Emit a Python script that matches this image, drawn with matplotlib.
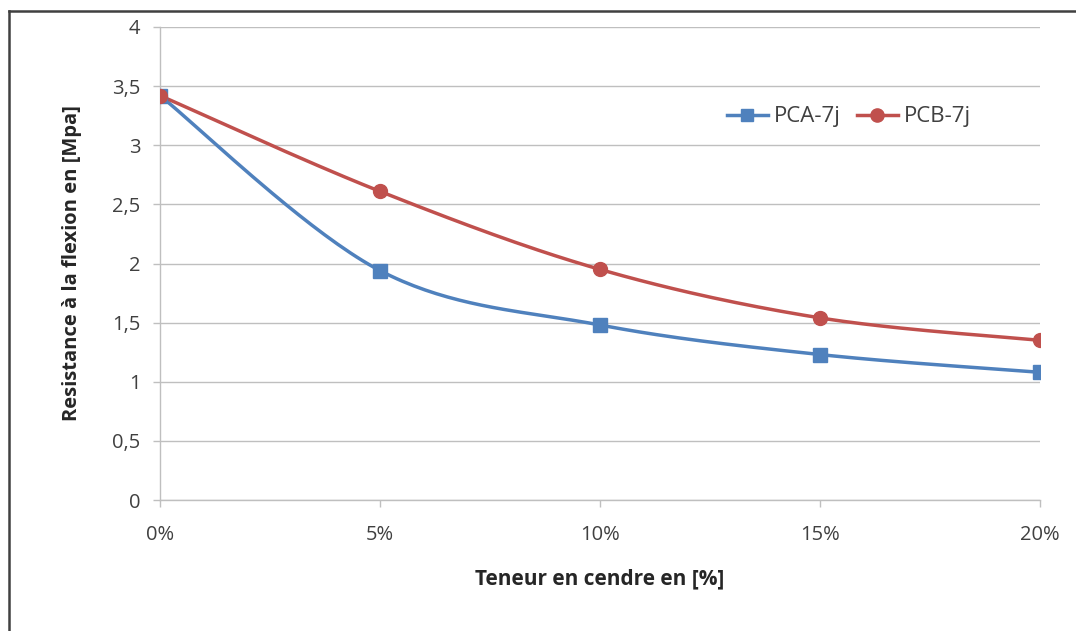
import matplotlib
matplotlib.use("Agg")
import matplotlib.pyplot as plt
from matplotlib.lines import Line2D
import numpy as np

# Données
categories = ["0%", "5%", "10%", "15%", "20%"]
pca_7j = [3.42, 1.94, 1.48, 1.23, 1.08]
pcb_7j = [3.42, 2.61, 1.95, 1.54, 1.35]
y_ticks = [0, 0.5, 1, 1.5, 2, 2.5, 3, 3.5, 4]
y_tick_labels = ["0", "0,5", "1", "1,5", "2", "2,5", "3", "3,5", "4"]

plt.rcParams['font.family'] = ['Open Sans', 'DejaVu Sans']


def smooth_curve(x, y, n=40):
    """Courbe lissée façon Excel (Bézier cubique, tension 1/6)."""
    x = np.asarray(x, float)
    y = np.asarray(y, float)
    pts = np.column_stack([x, y])
    out = []
    for i in range(len(pts) - 1):
        p0 = pts[i - 1] if i > 0 else pts[i]
        p1 = pts[i]
        p2 = pts[i + 1]
        p3 = pts[i + 2] if i + 2 < len(pts) else pts[i + 1]
        c1 = p1 + (p2 - p0) / 6
        c2 = p2 - (p3 - p1) / 6
        t = np.linspace(0, 1, n)[:, None]
        seg = ((1 - t) ** 3) * p1 + 3 * ((1 - t) ** 2) * t * c1 + 3 * (1 - t) * t ** 2 * c2 + t ** 3 * p2
        out.append(seg if i == 0 else seg[1:])
    seg = np.vstack(out)
    return seg[:, 0], seg[:, 1]


fig = plt.figure(figsize=(10.76, 6.31), dpi=100)
ax = fig.add_axes([160 / 1076, 131 / 631, 880 / 1076, 473 / 631])

xpos = np.arange(len(categories))
blue = '#4F81BD'
red = '#C0504D'

for vals, color, marker, ms, label in [(pca_7j, blue, 's', 9.5, 'PCA-7j'),
                                       (pcb_7j, red, 'o', 10, 'PCB-7j')]:
    sx, sy = smooth_curve(xpos, vals)
    ax.plot(sx, sy, '-', color=color, linewidth=2.5, solid_capstyle='round', zorder=3)
    ax.plot(xpos, vals, linestyle='none', marker=marker, color=color,
            markersize=ms, zorder=4)

# Axes
ax.set_xlim(0, len(categories) - 1)
ax.set_ylim(0, 4)
ax.set_xticks(xpos)
ax.set_xticklabels(categories)
ax.set_yticks(y_ticks)
ax.set_yticklabels(y_tick_labels)
ax.grid(axis='y', color='#BFBFBF', linewidth=1)
ax.set_axisbelow(True)
for side in ['top', 'right']:
    ax.spines[side].set_visible(False)
for side in ['left', 'bottom']:
    ax.spines[side].set_color('#BFBFBF')
    ax.spines[side].set_linewidth(1)
ax.tick_params(axis='both', colors='#BFBFBF', labelcolor='#404040',
               labelsize=14.5, length=5, width=1)
ax.tick_params(axis='x', pad=13)
ax.tick_params(axis='y', pad=9)
for lbl in ax.get_xticklabels() + ax.get_yticklabels():
    lbl.set_clip_on(False)

ax.set_xlabel('Teneur en cendre en [%]', fontsize=15, fontweight='bold',
              color='#262626', labelpad=17)
ax.set_ylabel('Resistance à la flexion en [Mpa]', fontsize=14.5, fontweight='bold',
              color='#262626', labelpad=22)

handles = [Line2D([], [], color=blue, marker='s', markersize=9, linewidth=2.5),
           Line2D([], [], color=red, marker='o', markersize=9.5, linewidth=2.5)]
ax.legend(handles, ['PCA-7j', 'PCB-7j'], loc='center left',
          bbox_to_anchor=(0.644, 0.81), ncol=2, frameon=False, fontsize=16,
          handlelength=1.85, columnspacing=0.75, handletextpad=0.25,
          labelcolor='#404040', borderaxespad=0, borderpad=0)

# Cadre gris sur la gauche et en haut
fig.add_artist(Line2D([8.5 / 1076, 8.5 / 1076], [0, 1 - 10.5 / 631],
                      transform=fig.transFigure, color='#404040', linewidth=1.8))
fig.add_artist(Line2D([8.5 / 1076, 1], [1 - 10.5 / 631, 1 - 10.5 / 631],
                      transform=fig.transFigure, color='#404040', linewidth=1.8))

fig.savefig('out.png', dpi=100)
